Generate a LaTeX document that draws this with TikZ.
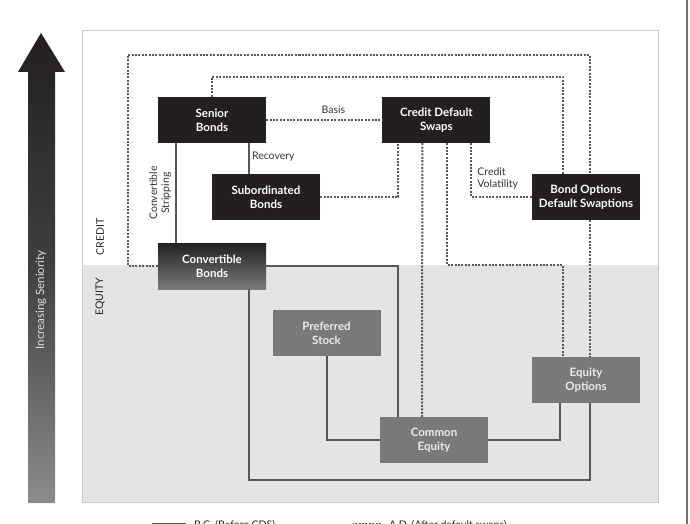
\documentclass[tikz,border=0pt]{standalone}
\usepackage{fontspec}
\setmainfont{Lato}
\usepackage{tikz}
\usetikzlibrary{positioning}
\definecolor{ink}{RGB}{35,31,32}
\definecolor{slate}{RGB}{122,122,122}
\definecolor{wire}{RGB}{88,88,88}
\definecolor{band}{RGB}{228,228,228}

\begin{document}
\begin{tikzpicture}[x=1pt, y=-1pt, font=\fontsize{10.5}{12}\selectfont,
    credit/.style={rectangle, fill=ink, text=white, font=\fontsize{11.5}{14}\selectfont\bfseries, minimum width=108pt, minimum height=46pt, align=center, inner sep=2pt},
    equity/.style={credit, fill=slate, text=white!92!black},
    before/.style={draw=wire, line width=2pt},
    after/.style={draw=wire, line width=2pt, dash pattern=on 2pt off 1.4pt},
    tag/.style={font=\fontsize{10.5}{12}\selectfont, text=black!80, align=left, inner sep=2pt}]

\useasboundingbox (0,0) rectangle (690,524);
\clip (0,0) rectangle (690,524);

\fill [white] (82,30) rectangle (658,265);
\fill [band] (82,265) rectangle (658,502);
\draw [black!20, line width=0.8pt] (82,30) rectangle (658,502);
\draw [black!55, line width=1.4pt] (687,0) -- (687,524);

\shade [top color=ink, bottom color=black!45, middle color=black!75] (41,33) -- (65,72) -- (55,72) -- (55,503) -- (28,503) -- (28,72) -- (18,72) -- cycle;
\node [rotate=90, text=white!88!black, font=\fontsize{11.5}{13}\selectfont] (seniority) at (41,300) {Increasing Seniority};

\node [rotate=90, tag, text=black!85] (creditzone) at (100,237) {CREDIT};
\node [rotate=90, tag, text=black!85] (equityzone) at (100,297) {EQUITY};

\node [credit] (senior) at (212,120) {Senior\\Bonds};
\node [credit, right=116pt of senior] (cds) {Credit Default\\Swaps};
\node [credit] (sub) at (266,197) {Subordinated\\Bonds};
\node [credit] (bopt) at (586,197) {Bond Options\\Default Swaptions};
\node [credit, top color=ink, bottom color=black!52] (conv) at (212,266) {Convertible\\Bonds};
\node [equity] (pref) at (326.5,333) {Preferred\\Stock};
\node [equity] (common) at (434,440) {Common\\Equity};
\node [equity] (eqopt) at (586,380) {Equity\\Options};

\draw [before] ([xshift=-36pt]senior.south) -- node[midway, rotate=90, anchor=south, tag, align=center, inner sep=4pt] {Convertible\\Stripping} ([xshift=-36pt]conv.north);
\draw [before] ([xshift=37pt]senior.south) -- node[pos=0.45, right, tag] {Recovery} ([xshift=-17pt]sub.north);
\draw [before] (conv.east) -| ([xshift=-36pt]common.north);
\draw [before] ([xshift=37pt]conv.south) -- ++(0,191) -| ([xshift=4pt]eqopt.south);
\draw [before] (pref.south) |- (common.west);
\draw [before] (common.east) -| ([xshift=-26pt]eqopt.south);

\coordinate (roof) at (300,55);
\draw [after] (conv.west) -- ++(-30,0) |- (roof) -| ([xshift=4pt]bopt.north);
\draw [after] ([xshift=4pt]bopt.south) -- ([xshift=4pt]eqopt.north);
\draw [after] (senior.north) -- ++(0,-20) -| ([xshift=-23pt]bopt.north);
\draw [after] (senior.east) -- node[pos=0.58, above, tag, yshift=3pt] {Basis} (cds.west);
\draw [after] (sub.east) -| ([xshift=-38pt]cds.south);
\draw [after] ([xshift=-14pt]cds.south) -- ([xshift=-12pt]common.north);
\draw [after] ([xshift=11pt]cds.south) -- ++(0,122) -| ([xshift=-23pt]eqopt.north);
\draw [after] ([xshift=35pt]cds.south) |- node[pos=0.33, anchor=west, tag, xshift=3pt] {Credit\\Volatility} (bopt.west);

\node [tag, anchor=base west, text=black!85] (legbc) at (192,528) {B.C. (Before CDS)};
\node [tag, anchor=base west, text=black!85] (legad) at (387,528) {A.D. (After default swaps)};
\draw [before, line width=1pt] ([xshift=-6pt, yshift=1pt]legbc.west) -- ++(-34pt,0);
\draw [after, line width=1.4pt] ([xshift=-6pt, yshift=1pt]legad.west) -- ++(-28pt,0);

\end{tikzpicture}
\end{document}
